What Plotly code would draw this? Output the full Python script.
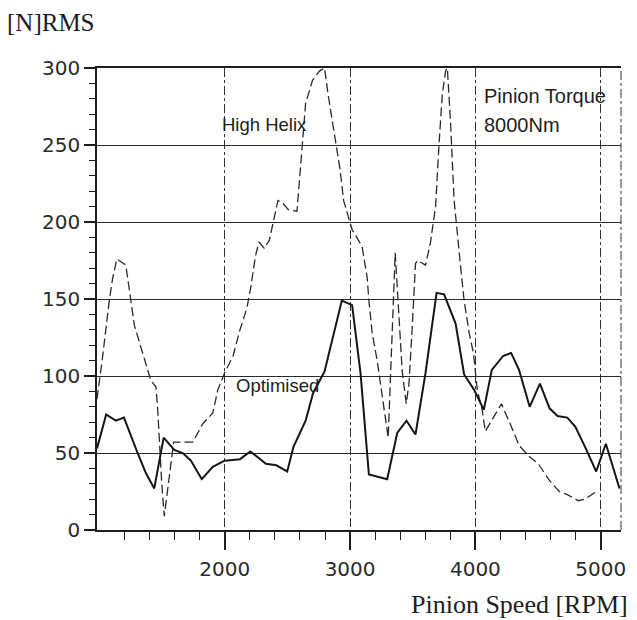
import plotly.graph_objects as go

# ---- data ----
opt_rpm = [980, 1053, 1130, 1195, 1304, 1370, 1437, 1512, 1597, 1664, 1730, 1816, 1904, 1998,
           2121, 2204, 2328, 2411, 2498, 2548, 2645, 2705, 2796, 2934, 3016, 3083, 3150, 3296,
           3376, 3450, 3522, 3602, 3690, 3750, 3842, 3910, 3990, 4067, 4131, 4221, 4285, 4348,
           4433, 4515, 4592, 4656, 4733, 4798, 4875, 4964, 5041, 5150]
opt_val = [53, 75, 71, 73, 50, 37, 27, 60, 52, 50, 45, 33, 41, 45,
           46, 51, 43, 42, 38, 54, 71, 89, 103, 149, 146, 102, 36, 33,
           63, 71, 62, 102, 154, 153, 134, 101, 91, 78, 104, 113, 115, 104,
           80, 95, 79, 74, 73, 67, 54, 38, 56, 27]

hh_rpm = [980, 1024, 1078, 1104, 1138, 1210, 1238, 1278, 1410, 1450, 1464, 1478, 1496, 1517,
          1557, 1592, 1650, 1744, 1824, 1904, 1944, 1998, 2066, 2121, 2176, 2204, 2245, 2273,
          2314, 2355, 2424, 2465, 2507, 2576, 2645, 2700, 2755, 2796, 2824, 2878, 2920, 2948,
          2990, 3016, 3096, 3136, 3150, 3176, 3216, 3264, 3304, 3360, 3402, 3416, 3448, 3470,
          3496, 3522, 3540, 3602, 3642, 3682, 3710, 3736, 3762, 3776, 3802, 3830, 3882, 3910,
          3950, 3984, 4015, 4054, 4079, 4208, 4298, 4348, 4425, 4502, 4592, 4669, 4733, 4823,
          4875, 4964]
hh_val = [85, 112, 149, 163, 176, 172, 156, 133, 97, 93, 79, 54, 31, 9,
          35, 57, 57, 57, 69, 76, 91, 102, 113, 130, 144, 156, 178, 187,
          183, 188, 214, 212, 208, 207, 277, 292, 298, 300, 283, 256, 234, 214,
          203, 195, 184, 164, 149, 128, 110, 82, 60, 180, 126, 103, 82, 95,
          132, 173, 175, 172, 187, 210, 251, 283, 298, 300, 264, 214, 171, 149,
          128, 115, 91, 78, 64, 82, 65, 55, 48, 43, 32, 25, 23, 19,
          20, 25]

x_ticks = [2000, 3000, 4000, 5000]
x_tick_labels = ["2000", "3000", "4000", "5000"]
x_minor = [1200, 1400, 1600, 1800, 2200, 2400, 2600, 2800, 3200, 3400, 3600, 3800,
           4200, 4400, 4600, 4800]
y_ticks = [0, 50, 100, 150, 200, 250, 300]
y_tick_labels = ["0", "50", "100", "150", "200", "250", "300"]

INK = "#1e1e1e"
SANS = "Liberation Sans, Arial, sans-serif"
SERIF = "Liberation Serif, Times New Roman, serif"

fig = go.Figure()
fig.add_trace(go.Scatter(x=hh_rpm, y=hh_val, mode="lines", name="High Helix",
                         line=dict(color="#2a2a2a", width=1.3, dash="9px,4px"),
                         showlegend=False))
fig.add_trace(go.Scatter(x=opt_rpm, y=opt_val, mode="lines", name="Optimised",
                         line=dict(color="#151515", width=2),
                         showlegend=False))

fig.update_layout(
    width=637, height=620,
    margin=dict(l=97, r=16, t=68, b=90, autoexpand=False),
    paper_bgcolor="white", plot_bgcolor="white",
    title=dict(text="[N]RMS", font=dict(family=SERIF, size=25, color=INK),
               x=7/637, xanchor="left", xref="container",
               y=1-22/620, yanchor="middle", yref="container"),
    xaxis=dict(range=[980, 5162], tickmode="array", tickvals=x_ticks, ticktext=x_tick_labels,
               ticks="outside", ticklen=18, tickwidth=1.5, tickcolor=INK,
               ticklabelstandoff=2,
               showline=True, linecolor=INK, linewidth=1.5, mirror=True,
               showgrid=True, gridcolor="#333333", gridwidth=1, griddash="dashdot",
               zeroline=False,
               tickfont=dict(family="DejaVu Sans, sans-serif", size=20, color="#2a2a2a"),
               minor=dict(tickmode="array", tickvals=x_minor, ticks="outside", ticklen=8,
                          tickwidth=1.2, tickcolor=INK, showgrid=False)),
    yaxis=dict(range=[0, 300], tickmode="array", tickvals=y_ticks, ticktext=y_tick_labels,
               ticks="outside", ticklen=11, tickwidth=1.5, tickcolor=INK,
               showline=True, linecolor=INK, linewidth=1.5, mirror=False,
               showgrid=True, gridcolor="#2a2a2a", gridwidth=1.2,
               zeroline=False,
               tickfont=dict(family="DejaVu Sans, sans-serif", size=20, color="#2a2a2a"),
               minor=dict(dtick=10, ticks="outside", ticklen=6, tickwidth=1.2,
                          tickcolor=INK, showgrid=False)),
    shapes=[dict(type="line", xref="paper", yref="paper", x0=1, x1=1, y0=0, y1=1,
                 line=dict(color="#333333", width=1, dash="dashdot"))],
    annotations=[
        dict(text="High Helix", x=2314, y=263, xref="x", yref="y", showarrow=False,
             font=dict(family=SANS, size=18.5, color=INK)),
        dict(text="Optimised", x=2421, y=94, xref="x", yref="y", showarrow=False,
             font=dict(family=SANS, size=18.5, color=INK)),
        dict(text="Pinion Torque", x=4054, y=282, xref="x", yref="y", xanchor="left",
             showarrow=False, font=dict(family=SANS, size=20, color=INK)),
        dict(text="8000Nm", x=4054, y=263, xref="x", yref="y", xanchor="left",
             showarrow=False, font=dict(family=SANS, size=20, color=INK)),
        dict(text="Pinion Speed [RPM]", x=(630-97)/524, y=(530-604)/462, xref="paper",
             yref="paper", xanchor="right", yanchor="middle", showarrow=False,
             font=dict(family=SERIF, size=26, color=INK)),
    ],
)

fig.write_html("out.html", config={"displayModeBar": False},
               post_script="document.body.style.margin='0px';document.body.style.overflow='hidden';")
